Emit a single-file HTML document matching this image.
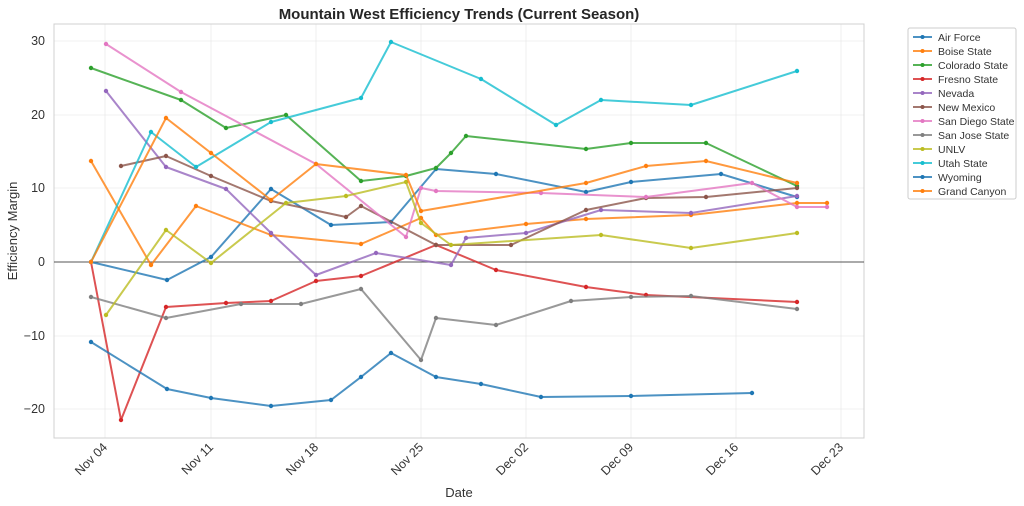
<!DOCTYPE html>
<html><head><meta charset="utf-8"><style>
body{margin:0;background:#fff;}
svg{display:block;font-family:"Liberation Sans","DejaVu Sans",sans-serif;}
</style></head><body>
<svg width="1024" height="506" viewBox="0 0 1024 506" xmlns="http://www.w3.org/2000/svg">
<defs>
<marker id="c0" markerUnits="userSpaceOnUse" markerWidth="6" markerHeight="6" refX="3" refY="3"><circle cx="3" cy="3" r="2.2" fill="#1f77b4"/></marker>
<marker id="c1" markerUnits="userSpaceOnUse" markerWidth="6" markerHeight="6" refX="3" refY="3"><circle cx="3" cy="3" r="2.2" fill="#ff7f0e"/></marker>
<marker id="c2" markerUnits="userSpaceOnUse" markerWidth="6" markerHeight="6" refX="3" refY="3"><circle cx="3" cy="3" r="2.2" fill="#2ca02c"/></marker>
<marker id="c3" markerUnits="userSpaceOnUse" markerWidth="6" markerHeight="6" refX="3" refY="3"><circle cx="3" cy="3" r="2.2" fill="#d62728"/></marker>
<marker id="c4" markerUnits="userSpaceOnUse" markerWidth="6" markerHeight="6" refX="3" refY="3"><circle cx="3" cy="3" r="2.2" fill="#9467bd"/></marker>
<marker id="c5" markerUnits="userSpaceOnUse" markerWidth="6" markerHeight="6" refX="3" refY="3"><circle cx="3" cy="3" r="2.2" fill="#8c564b"/></marker>
<marker id="c6" markerUnits="userSpaceOnUse" markerWidth="6" markerHeight="6" refX="3" refY="3"><circle cx="3" cy="3" r="2.2" fill="#e377c2"/></marker>
<marker id="c7" markerUnits="userSpaceOnUse" markerWidth="6" markerHeight="6" refX="3" refY="3"><circle cx="3" cy="3" r="2.2" fill="#7f7f7f"/></marker>
<marker id="c8" markerUnits="userSpaceOnUse" markerWidth="6" markerHeight="6" refX="3" refY="3"><circle cx="3" cy="3" r="2.2" fill="#bcbd22"/></marker>
<marker id="c9" markerUnits="userSpaceOnUse" markerWidth="6" markerHeight="6" refX="3" refY="3"><circle cx="3" cy="3" r="2.2" fill="#17becf"/></marker>
</defs>
<rect width="1024" height="506" fill="#fff"/>
<text x="459" y="19" text-anchor="middle" font-size="15" font-weight="bold" fill="#262626">Mountain West Efficiency Trends (Current Season)</text>
<g stroke="#ebebeb" stroke-width="0.8">
<line x1="105" y1="24" x2="105" y2="438"/><line x1="211" y1="24" x2="211" y2="438"/><line x1="316" y1="24" x2="316" y2="438"/><line x1="421" y1="24" x2="421" y2="438"/><line x1="526" y1="24" x2="526" y2="438"/><line x1="631" y1="24" x2="631" y2="438"/><line x1="736" y1="24" x2="736" y2="438"/><line x1="841" y1="24" x2="841" y2="438"/>
<line x1="54" y1="41" x2="864" y2="41"/><line x1="54" y1="115" x2="864" y2="115"/><line x1="54" y1="188" x2="864" y2="188"/><line x1="54" y1="336" x2="864" y2="336"/><line x1="54" y1="409" x2="864" y2="409"/>
</g>
<rect x="54" y="24" width="810" height="414" fill="none" stroke="#d0d0d0" stroke-width="1"/>
<line x1="54" y1="262" x2="864" y2="262" stroke="#555" stroke-width="0.9"/>
<g font-size="12.5" fill="#333" text-anchor="end">
<text x="45" y="45">30</text><text x="45" y="119">20</text><text x="45" y="192">10</text><text x="45" y="266">0</text><text x="45" y="340">−10</text><text x="45" y="413">−20</text>
</g>
<g font-size="12.5" fill="#333" text-anchor="end">
<text transform="translate(108,448) rotate(-45)">Nov 04</text>
<text transform="translate(214,448) rotate(-45)">Nov 11</text>
<text transform="translate(319,448) rotate(-45)">Nov 18</text>
<text transform="translate(424,448) rotate(-45)">Nov 25</text>
<text transform="translate(529,448) rotate(-45)">Dec 02</text>
<text transform="translate(634,448) rotate(-45)">Dec 09</text>
<text transform="translate(739,448) rotate(-45)">Dec 16</text>
<text transform="translate(844,448) rotate(-45)">Dec 23</text>
</g>
<text x="459" y="497" text-anchor="middle" font-size="13" fill="#333">Date</text>
<text transform="translate(17,231) rotate(-90)" text-anchor="middle" font-size="13" fill="#333">Efficiency Margin</text>
<g fill="none" stroke-width="2" stroke-opacity="0.8" stroke-linejoin="round">
<polyline stroke="#1f77b4" marker-start="url(#c0)" marker-mid="url(#c0)" marker-end="url(#c0)" points="91,262 167,280 211,257 271,189 331,225 391,222 436,169 496,174 586,192 631,182 721,174 797,197"/>
<polyline stroke="#ff7f0e" marker-start="url(#c1)" marker-mid="url(#c1)" marker-end="url(#c1)" points="91,161 151,265 196,206 271,235 361,244 421,218 436,235 526,224 586,219 691,215 797,203 827,203"/>
<polyline stroke="#2ca02c" marker-start="url(#c2)" marker-mid="url(#c2)" marker-end="url(#c2)" points="91,68 181,100 226,128 286,115 361,181 406,176 436,168 451,153 466,136 586,149 631,143 706,143 797,186"/>
<polyline stroke="#d62728" marker-start="url(#c3)" marker-mid="url(#c3)" marker-end="url(#c3)" points="91,262 121,420 166,307 226,303 271,301 316,281 361,276 436,245 496,270 586,287 646,295 797,302"/>
<polyline stroke="#9467bd" marker-start="url(#c4)" marker-mid="url(#c4)" marker-end="url(#c4)" points="106,91 166,167 226,189 271,233 316,275 376,253 451,265 466,238 526,233 601,210 691,213 797,196"/>
<polyline stroke="#8c564b" marker-start="url(#c5)" marker-mid="url(#c5)" marker-end="url(#c5)" points="121,166 166,156 211,176 271,201 346,217 361,206 436,245 511,245 586,210 646,198 706,197 797,188"/>
<polyline stroke="#e377c2" marker-start="url(#c6)" marker-mid="url(#c6)" marker-end="url(#c6)" points="106,44 181,92 316,164 406,237 421,188 436,191 541,193 646,197 752,183 797,207 827,207"/>
<polyline stroke="#7f7f7f" marker-start="url(#c7)" marker-mid="url(#c7)" marker-end="url(#c7)" points="91,297 166,318 241,304 301,304 361,289 421,360 436,318 496,325 571,301 631,297 691,296 797,309"/>
<polyline stroke="#bcbd22" marker-start="url(#c8)" marker-mid="url(#c8)" marker-end="url(#c8)" points="106,315 166,230 211,263 286,203 346,196 406,182 421,223 451,245 601,235 691,248 797,233"/>
<polyline stroke="#17becf" marker-start="url(#c9)" marker-mid="url(#c9)" marker-end="url(#c9)" points="91,262 151,132 196,167 271,122 361,98 391,42 481,79 556,125 601,100 691,105 797,71"/>
<polyline stroke="#1f77b4" marker-start="url(#c0)" marker-mid="url(#c0)" marker-end="url(#c0)" points="91,342 167,389 211,398 271,406 331,400 361,377 391,353 436,377 481,384 541,397 631,396 752,393"/>
<polyline stroke="#ff7f0e" marker-start="url(#c1)" marker-mid="url(#c1)" marker-end="url(#c1)" points="91,262 166,118 211,153 271,200 316,164 406,175 421,211 586,183 646,166 706,161 797,183"/>
</g>
<rect x="908" y="28" width="108" height="171" fill="#fff" stroke="#ccc" rx="2"/>
<g font-size="10.5" fill="#333">
<g stroke-width="2" stroke-opacity="0.8"><line x1="913" y1="37" x2="932" y2="37" stroke="#1f77b4"/><line x1="913" y1="51" x2="932" y2="51" stroke="#ff7f0e"/><line x1="913" y1="65" x2="932" y2="65" stroke="#2ca02c"/><line x1="913" y1="79" x2="932" y2="79" stroke="#d62728"/><line x1="913" y1="93" x2="932" y2="93" stroke="#9467bd"/><line x1="913" y1="107" x2="932" y2="107" stroke="#8c564b"/><line x1="913" y1="121" x2="932" y2="121" stroke="#e377c2"/><line x1="913" y1="135" x2="932" y2="135" stroke="#7f7f7f"/><line x1="913" y1="149" x2="932" y2="149" stroke="#bcbd22"/><line x1="913" y1="163" x2="932" y2="163" stroke="#17becf"/><line x1="913" y1="177" x2="932" y2="177" stroke="#1f77b4"/><line x1="913" y1="191" x2="932" y2="191" stroke="#ff7f0e"/></g>
<g><circle cx="922.5" cy="37" r="2" fill="#1f77b4"/><circle cx="922.5" cy="51" r="2" fill="#ff7f0e"/><circle cx="922.5" cy="65" r="2" fill="#2ca02c"/><circle cx="922.5" cy="79" r="2" fill="#d62728"/><circle cx="922.5" cy="93" r="2" fill="#9467bd"/><circle cx="922.5" cy="107" r="2" fill="#8c564b"/><circle cx="922.5" cy="121" r="2" fill="#e377c2"/><circle cx="922.5" cy="135" r="2" fill="#7f7f7f"/><circle cx="922.5" cy="149" r="2" fill="#bcbd22"/><circle cx="922.5" cy="163" r="2" fill="#17becf"/><circle cx="922.5" cy="177" r="2" fill="#1f77b4"/><circle cx="922.5" cy="191" r="2" fill="#ff7f0e"/></g>
<text x="938" y="41">Air Force</text><text x="938" y="55">Boise State</text><text x="938" y="69">Colorado State</text><text x="938" y="83">Fresno State</text><text x="938" y="97">Nevada</text><text x="938" y="111">New Mexico</text><text x="938" y="125">San Diego State</text><text x="938" y="139">San Jose State</text><text x="938" y="153">UNLV</text><text x="938" y="167">Utah State</text><text x="938" y="181">Wyoming</text><text x="938" y="195">Grand Canyon</text>
</g>
</svg>
</body></html>
